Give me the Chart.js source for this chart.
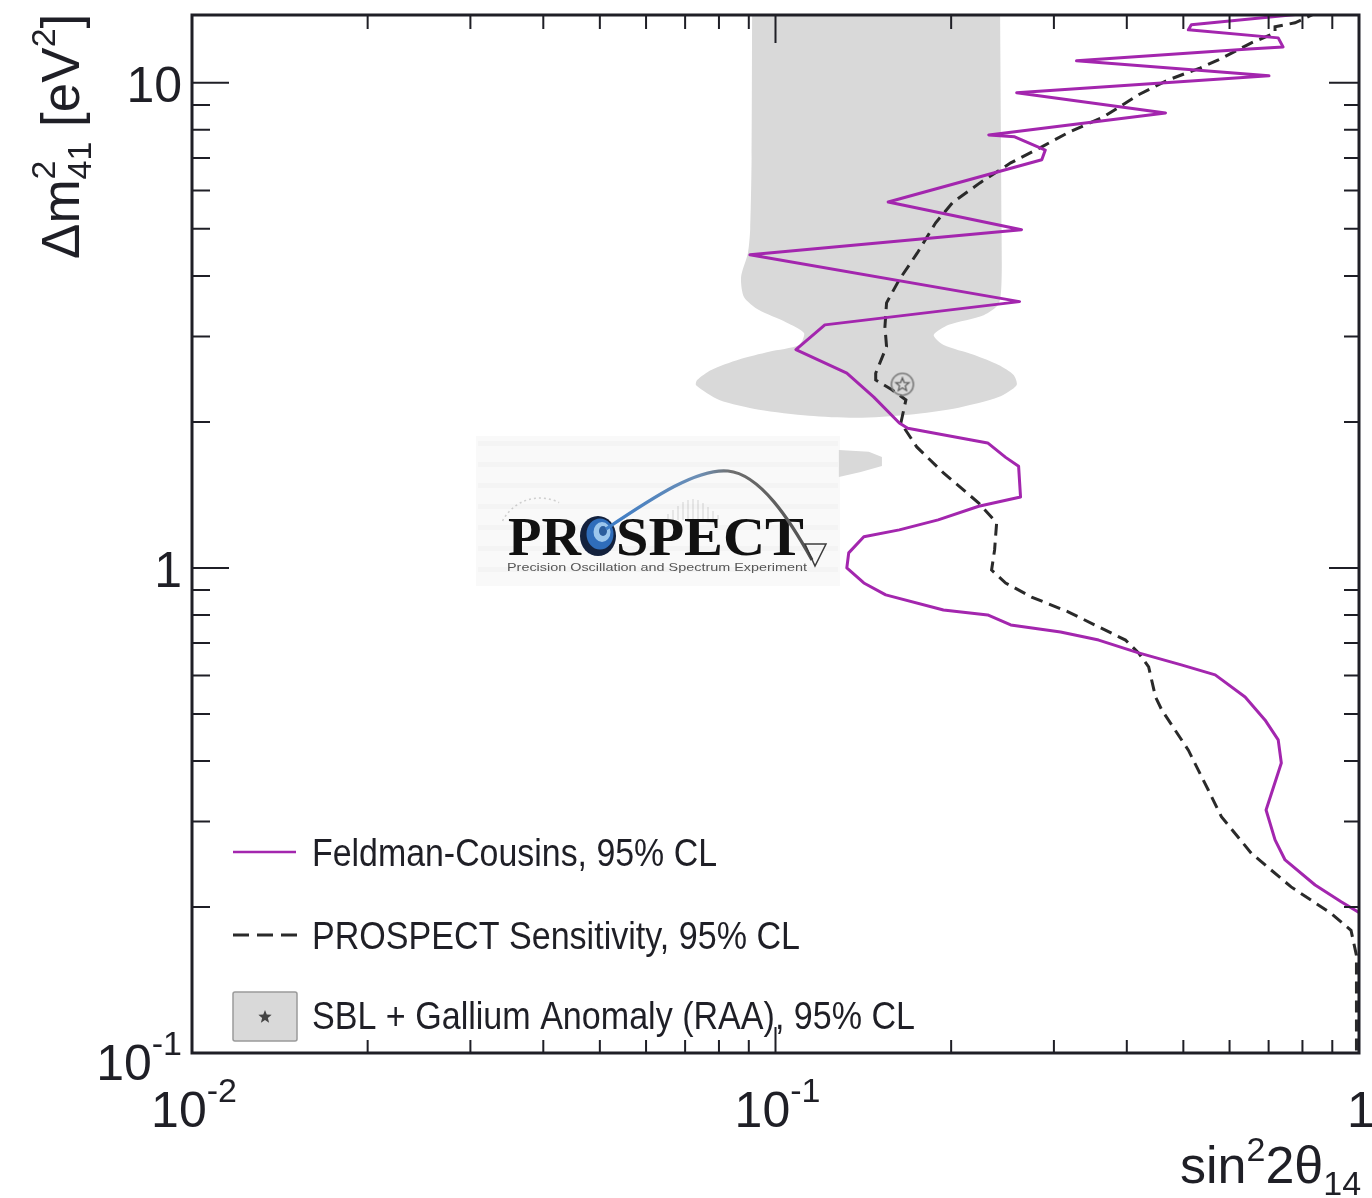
<!DOCTYPE html>
<html>
<head>
<meta charset="utf-8">
<script src="https://cdn.jsdelivr.net/npm/chart.js@4/dist/chart.umd.min.js"></script>
<style>
  html, body { margin: 0; padding: 0; background: #ffffff; }
  #wrap { width: 1372px; height: 1198px; position: relative; }
</style>
</head>
<body>
<div id="wrap"><canvas id="c" width="1372" height="1198"></canvas></div>
<script>
// Feldman-Cousins 95% CL exclusion contour
const fcSin2 = [0.861, 0.516, 0.510, 0.727, 0.741, 0.648, 0.328, 0.701, 0.259, 0.466, 0.232, 0.257, 0.290, 0.286, 0.156, 0.264, 0.0904, 0.262, 0.1215, 0.1084, 0.1325, 0.1474, 0.163, 0.1685, 0.231, 0.248, 0.261, 0.263, 0.223, 0.190, 0.163, 0.1417, 0.1335, 0.1325, 0.1417, 0.1545, 0.194, 0.231, 0.253, 0.308, 0.358, 0.419, 0.496, 0.567, 0.638, 0.690, 0.727, 0.736, 0.693, 0.718, 0.747, 0.841, 0.932, 1.016];
const fcDm2 = [14.0, 13.17, 12.86, 12.38, 11.86, 11.75, 11.1, 10.34, 9.54, 8.67, 7.81, 7.74, 7.27, 6.94, 5.68, 4.98, 4.42, 3.54, 3.17, 2.82, 2.52, 2.25, 1.99, 1.94, 1.81, 1.69, 1.62, 1.40, 1.34, 1.256, 1.198, 1.159, 1.074, 1.00, 0.931, 0.880, 0.819, 0.800, 0.763, 0.738, 0.710, 0.668, 0.631, 0.602, 0.542, 0.486, 0.442, 0.396, 0.317, 0.275, 0.250, 0.222, 0.205, 0.1925];

// PROSPECT sensitivity, 95% CL
const sensSin2 = [0.851, 0.777, 0.718, 0.718, 0.654, 0.574, 0.535, 0.471, 0.419, 0.365, 0.317, 0.286, 0.253, 0.224, 0.201, 0.188, 0.175, 0.163, 0.155, 0.154, 0.155, 0.1485, 0.1485, 0.1583, 0.1673, 0.164, 0.1746, 0.194, 0.223, 0.2393, 0.2374, 0.2346, 0.248, 0.2747, 0.318, 0.358, 0.398, 0.419, 0.436, 0.448, 0.459, 0.510, 0.552, 0.581, 0.654, 0.765, 0.896, 0.969, 0.99, 0.99];
const sensDm2 = [14.0, 13.30, 13.05, 12.68, 12.09, 11.15, 10.74, 10.14, 9.45, 8.51, 7.89, 7.38, 6.84, 6.22, 5.66, 5.14, 4.46, 3.93, 3.52, 3.14, 2.86, 2.52, 2.44, 2.33, 2.22, 1.99, 1.776, 1.570, 1.361, 1.238, 1.089, 0.990, 0.931, 0.871, 0.811, 0.756, 0.710, 0.668, 0.625, 0.542, 0.510, 0.421, 0.348, 0.307, 0.258, 0.220, 0.194, 0.179, 0.159, 0.09];

// SBL + Gallium anomaly (RAA) allowed region, 95% CL: main contour
const raaSin2 = [0.0912, 0.0910, 0.0905, 0.0897, 0.0873, 0.0883, 0.0937, 0.1042, 0.1119, 0.1097, 0.0975, 0.0866, 0.0776, 0.0734, 0.0731, 0.0801, 0.0937, 0.1141, 0.1378, 0.1692, 0.2060, 0.2412, 0.2589, 0.2559, 0.2412, 0.2186, 0.1942, 0.1867, 0.1981, 0.2274, 0.2412, 0.2440, 0.2440, 0.2425];
const raaDm2 = [15.0, 7.0, 5.0, 4.46, 3.98, 3.62, 3.40, 3.21, 3.05, 2.88, 2.79, 2.69, 2.56, 2.44, 2.38, 2.22, 2.12, 2.06, 2.04, 2.07, 2.14, 2.25, 2.38, 2.50, 2.62, 2.75, 2.88, 3.02, 3.17, 3.32, 3.50, 3.9, 5.0, 15.0];
// small isolated island of the same region
const islandSin2 = [0.1284, 0.1445, 0.1522, 0.1522, 0.1400, 0.1284];
const islandDm2 = [1.751, 1.735, 1.694, 1.623, 1.577, 1.540];

// best-fit point of the anomaly
const bestFitSin2 = [0.165];
const bestFitDm2 = [2.39];

// axis ranges and labelled ticks
const xRange = [0.01, 1];
const yRange = [0.1, 13.8];
const xMajorTicks = [0.01, 0.1, 1];
const xTickLabels = [['10', '-2'], ['10', '-1'], ['1', '']];
const yMajorTicks = [0.1, 1, 10];
const yTickLabels = [['10', '-1'], ['1', ''], ['10', '']];

const legendLabels = ['Feldman-Cousins, 95% CL', 'PROSPECT Sensitivity, 95% CL', 'SBL + Gallium Anomaly (RAA), 95% CL'];

const SANS = '"Liberation Sans", Arial, Helvetica, sans-serif';
const SERIF = '"Liberation Serif", "DejaVu Serif", serif';
const PURPLE = '#a326ae';
const GREY_FILL = '#d9d9d9';
const INK = '#1f1f26';

function toPoints(xs, ys) { return xs.map((v, i) => ({ x: v, y: ys[i] })); }

// minor ticks for each decade inside a range
function minorTicks(lo, hi) {
  const out = [];
  for (let d = lo; d < hi * 0.999; d *= 10) {
    for (let k = 2; k <= 9; k++) { const v = d * k; if (v <= hi) out.push(v); }
  }
  return out;
}

// text helpers
function fitText(ctx, text, x, y, width) {
  const w = ctx.measureText(text).width;
  ctx.save();
  ctx.translate(x, y);
  ctx.scale(width / w, 1);
  ctx.fillText(text, 0, 0);
  ctx.restore();
}
function layoutSegs(ctx, segs) {
  let x = 0, prevStart = 0;
  const items = [];
  for (const s of segs) {
    ctx.font = s.s + 'px ' + SANS;
    const w = ctx.measureText(s.t).width;
    const start = s.stack ? prevStart : x;
    items.push({ t: s.t, s: s.s, dy: s.dy || 0, x: start });
    x = s.stack ? Math.max(x, start + w) : start + w;
    prevStart = start;
  }
  return { items, width: x };
}
function drawSegs(ctx, segs, x, y, align) {
  const L = layoutSegs(ctx, segs);
  const x0 = align === 'right' ? x - L.width : align === 'center' ? x - L.width / 2 : x;
  for (const it of L.items) {
    ctx.font = it.s + 'px ' + SANS;
    ctx.fillText(it.t, x0 + it.x, y + it.dy);
  }
}
function labelSegs(pair) {
  const segs = [{ t: pair[0], s: 50 }];
  if (pair[1]) segs.push({ t: pair[1], s: 34, dy: -25 });
  return segs;
}
function starPath(ctx, cx, cy, rOut, rIn) {
  ctx.beginPath();
  for (let i = 0; i < 10; i++) {
    const r = i % 2 ? rIn : rOut;
    const a = -Math.PI / 2 + i * Math.PI / 5;
    const px = cx + r * Math.cos(a), py = cy + r * Math.sin(a);
    if (i === 0) ctx.moveTo(px, py); else ctx.lineTo(px, py);
  }
  ctx.closePath();
}

// marker for the best-fit point: open circle with a star
const bestFitMarker = (() => {
  const c = document.createElement('canvas');
  c.width = 28; c.height = 28;
  const g = c.getContext('2d');
  g.strokeStyle = '#7c7c7c'; g.lineWidth = 1.6;
  g.beginPath(); g.arc(14, 14, 11, 0, Math.PI * 2); g.stroke();
  starPath(g, 14, 14.5, 7, 3);
  g.strokeStyle = '#5a5a5a'; g.lineWidth = 1.2; g.stroke();
  return c;
})();

// PROSPECT logo
function drawLogo(ctx) {
  ctx.save();
  ctx.fillStyle = '#f9f9f9';
  ctx.fillRect(476, 436, 364, 150);
  ctx.fillStyle = '#f4f4f4';
  for (let i = 0; i < 7; i++) ctx.fillRect(478, 441 + i * 21, 360, 5);
  // faint spectrum bars
  ctx.strokeStyle = 'rgba(120,120,120,0.2)';
  ctx.lineWidth = 1.5;
  const bars = [6, 10, 14, 18, 20, 21, 20, 17, 13, 9, 5];
  bars.forEach((h, i) => {
    const x = 668 + i * 5;
    ctx.beginPath(); ctx.moveTo(x, 520); ctx.lineTo(x, 520 - h); ctx.stroke();
  });
  // faint dotted arc above the letters
  ctx.setLineDash([2, 3]);
  ctx.strokeStyle = 'rgba(110,110,110,0.3)';
  ctx.beginPath(); ctx.arc(540, 540, 42, Math.PI * 1.15, Math.PI * 1.65); ctx.stroke();
  ctx.setLineDash([]);
  // wordmark
  ctx.fillStyle = '#111';
  ctx.font = 'bold 55px ' + SERIF;
  fitText(ctx, 'PR', 508, 555, 73);
  fitText(ctx, 'SPECT', 616, 555, 188);
  // swirl in place of the O
  const ell = (cx, cy, rx, ry, col) => { ctx.fillStyle = col; ctx.beginPath(); ctx.ellipse(cx, cy, rx, ry, 0, 0, Math.PI * 2); ctx.fill(); };
  ell(598, 536, 18, 20, '#13213d');
  ell(600, 534, 13.5, 15.5, '#2f6dbb');
  ell(602, 532, 8.5, 10, '#9cc6ec');
  ell(603, 531, 4, 5, '#2c5d9c');
  // neutrino trajectory
  const grad = ctx.createLinearGradient(605, 0, 815, 0);
  grad.addColorStop(0, '#3b7cc7');
  grad.addColorStop(0.45, '#6d8fb5');
  grad.addColorStop(0.6, '#6f6f6f');
  grad.addColorStop(1, '#505050');
  ctx.strokeStyle = grad;
  ctx.lineWidth = 3.2;
  ctx.beginPath();
  ctx.moveTo(606, 529);
  ctx.bezierCurveTo(655, 496, 698, 468, 728, 471);
  ctx.bezierCurveTo(760, 474, 790, 520, 812, 560);
  ctx.stroke();
  // nu triangle
  ctx.strokeStyle = '#3c3c3c';
  ctx.lineWidth = 1.5;
  ctx.beginPath(); ctx.moveTo(805, 544); ctx.lineTo(826, 544); ctx.lineTo(815, 566); ctx.closePath(); ctx.stroke();
  // tagline
  ctx.fillStyle = '#555';
  ctx.font = '11px ' + SANS;
  fitText(ctx, 'Precision Oscillation and Spectrum Experiment', 507, 571, 300);
  ctx.restore();
}

const decorations = {
  id: 'decorations',
  beforeDatasetsDraw(chart) {
    drawLogo(chart.ctx);
  },
  afterDraw(chart) {
    const ctx = chart.ctx;
    const a = chart.chartArea;
    const xs = chart.scales.x, ys = chart.scales.y;
    ctx.save();
    ctx.strokeStyle = INK;
    // tick marks on all four sides
    ctx.lineWidth = 2;
    const yMinor = minorTicks(yRange[0], yRange[1]);
    const xMinor = minorTicks(xRange[0], xRange[1]);
    const tickY = (v, lenL, lenR) => {
      const p = ys.getPixelForValue(v);
      ctx.beginPath();
      ctx.moveTo(a.left, p); ctx.lineTo(a.left + lenL, p);
      ctx.moveTo(a.right, p); ctx.lineTo(a.right - lenR, p);
      ctx.stroke();
    };
    const tickX = (v, lenB, lenT) => {
      const p = xs.getPixelForValue(v);
      ctx.beginPath();
      ctx.moveTo(p, a.bottom); ctx.lineTo(p, a.bottom - lenB);
      ctx.moveTo(p, a.top); ctx.lineTo(p, a.top + lenT);
      ctx.stroke();
    };
    yMinor.forEach(v => tickY(v, 18, 15));
    yMajorTicks.forEach(v => { if (v < yRange[1]) tickY(v, 37, 30); });
    xMinor.forEach(v => tickX(v, 13, 14));
    xMajorTicks.forEach(v => tickX(v, 26, 28));
    // frame
    ctx.lineWidth = 3;
    ctx.strokeRect(a.left, a.top, a.right - a.left, a.bottom - a.top);

    // tick labels
    ctx.fillStyle = INK;
    ctx.textBaseline = 'alphabetic';
    yMajorTicks.forEach((v, i) => {
      const p = ys.getPixelForValue(v);
      const lab = yTickLabels[i];
      drawSegs(ctx, labelSegs(lab), a.left - 10, p + (lab[1] ? 27 : 19), 'right');
    });
    xMajorTicks.forEach((v, i) => {
      const p = xs.getPixelForValue(v);
      drawSegs(ctx, labelSegs(xTickLabels[i]), p + 2, a.bottom + 74, 'center');
    });

    // axis titles
    drawSegs(ctx, [
      { t: 'sin', s: 52 }, { t: '2', s: 34, dy: -22 }, { t: '2\u03B8', s: 52 }, { t: '14', s: 34, dy: 12 }
    ], 1180, 1183, 'left');
    ctx.save();
    ctx.translate(79, 259);
    ctx.rotate(-Math.PI / 2);
    drawSegs(ctx, [
      { t: '\u0394m', s: 53 }, { t: '2', s: 34, dy: -24 }, { t: '41', s: 34, dy: 12, stack: true },
      { t: ' [eV', s: 53 }, { t: '2', s: 34, dy: -24 }, { t: ']', s: 53 }
    ], 0, 0, 'left');
    ctx.restore();

    // legend
    ctx.lineCap = 'butt';
    ctx.strokeStyle = PURPLE; ctx.lineWidth = 2.5;
    ctx.beginPath(); ctx.moveTo(233, 852); ctx.lineTo(296, 852); ctx.stroke();
    ctx.strokeStyle = '#2a2a2a'; ctx.lineWidth = 3;
    ctx.setLineDash([16, 8]);
    ctx.beginPath(); ctx.moveTo(233, 935); ctx.lineTo(297, 935); ctx.stroke();
    ctx.setLineDash([]);
    ctx.fillStyle = GREY_FILL; ctx.strokeStyle = '#9a9a9a'; ctx.lineWidth = 1.5;
    ctx.beginPath(); ctx.roundRect(233, 992, 64, 49, 2); ctx.fill(); ctx.stroke();
    starPath(ctx, 265, 1017, 7, 3); ctx.fillStyle = '#444'; ctx.fill();
    ctx.fillStyle = INK;
    ctx.font = '38px ' + SANS;
    fitText(ctx, legendLabels[0], 312, 866, 405);
    fitText(ctx, legendLabels[1], 312, 949, 488);
    fitText(ctx, legendLabels[2], 312, 1029, 603);
    ctx.restore();
  }
};

new Chart(document.getElementById('c'), {
  type: 'line',
  data: {
    datasets: [
      {
        label: 'SBL + Gallium Anomaly (RAA), 95% CL',
        data: toPoints(raaSin2, raaDm2),
        borderWidth: 0, pointRadius: 0, tension: 0.25,
        backgroundColor: GREY_FILL, borderColor: GREY_FILL,
        fill: 'shape', order: 10
      },
      {
        label: 'RAA island',
        data: toPoints(islandSin2, islandDm2),
        borderWidth: 0, pointRadius: 0, tension: 0,
        backgroundColor: GREY_FILL, borderColor: GREY_FILL,
        fill: 'shape', order: 9
      },
      {
        label: 'PROSPECT Sensitivity, 95% CL',
        data: toPoints(sensSin2, sensDm2),
        borderColor: '#2a2a2a', borderWidth: 3, borderDash: [12, 7],
        pointRadius: 0, tension: 0, fill: false, clip: 0, order: 3
      },
      {
        label: 'Feldman-Cousins, 95% CL',
        data: toPoints(fcSin2, fcDm2),
        borderColor: PURPLE, borderWidth: 3, borderJoinStyle: 'round',
        pointRadius: 0, tension: 0, fill: false, clip: 0, order: 2
      },
      {
        label: 'Best fit',
        data: toPoints(bestFitSin2, bestFitDm2),
        showLine: false, pointStyle: bestFitMarker, pointRadius: 12,
        order: 0
      }
    ]
  },
  options: {
    responsive: false,
    devicePixelRatio: 1,
    animation: false,
    layout: { padding: { left: 192, right: 11, top: 15, bottom: 145 } },
    plugins: { legend: { display: false }, tooltip: { enabled: false } },
    scales: {
      x: { type: 'logarithmic', min: xRange[0], max: xRange[1], display: false },
      y: { type: 'logarithmic', min: yRange[0], max: yRange[1], display: false }
    },
    events: []
  },
  plugins: [decorations]
});
</script>
</body>
</html>
